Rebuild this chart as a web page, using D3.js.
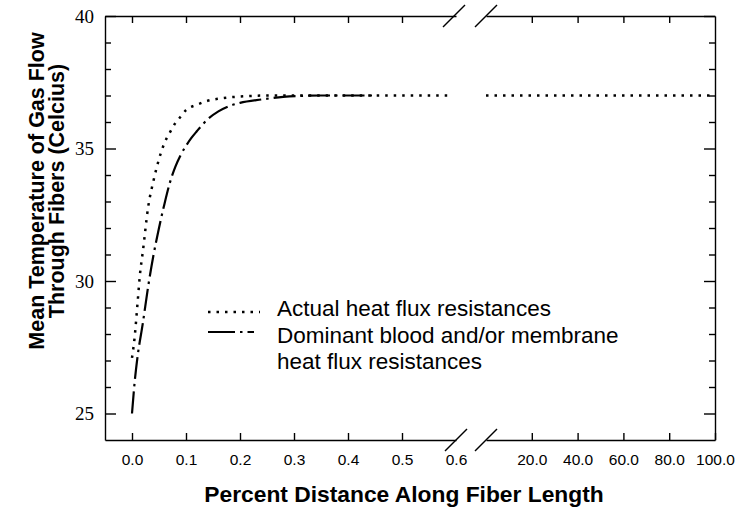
<!DOCTYPE html>
<html><head><meta charset="utf-8">
<script src="https://cdn.jsdelivr.net/npm/d3@7"></script>
<style>
body{margin:0;background:#fff;}
svg{display:block;font-family:"Liberation Sans",Arial,Helvetica,sans-serif;}
.serif text{font-family:"Liberation Serif","Times New Roman",serif;}
</style></head>
<body><svg id="c" width="738" height="512"></svg>
<script>
// ---- data ----
const actualX = [0, 0.005, 0.01, 0.015, 0.02, 0.03, 0.04, 0.05, 0.06, 0.07, 0.08, 0.09, 0.10, 0.12, 0.14, 0.16, 0.18, 0.20, 0.25, 0.30, 0.59];
const actualY = [27.1, 27.9, 29.1, 30.3, 31.1, 32.8, 33.8, 34.6, 35.2, 35.6, 35.95, 36.2, 36.45, 36.65, 36.8, 36.88, 36.93, 36.96, 37.0, 37.0, 37.0];
const dominantX = [0, 0.005, 0.01, 0.02, 0.03, 0.04, 0.05, 0.06, 0.07, 0.08, 0.09, 0.10, 0.11, 0.12, 0.14, 0.16, 0.18, 0.20, 0.24, 0.28, 0.35, 0.45];
const dominantY = [25.0, 26.2, 27.1, 28.4, 29.8, 31.0, 32.0, 32.9, 33.7, 34.3, 34.75, 35.1, 35.4, 35.65, 36.1, 36.4, 36.6, 36.72, 36.85, 36.95, 37.0, 37.0];
const actualRightX = [0, 100];
const actualRightY = [37, 37];
const leftTicks = [0, 0.1, 0.2, 0.3, 0.4, 0.5, 0.6];
const rightTicks = [20, 40, 60, 80, 100];
const yMajor = [25, 30, 35, 40];
const yMinor = [25,26,27,28,29,30,31,32,33,34,35,36,37,38,39];
const legendLabels = ["Actual heat flux resistances", "Dominant blood and/or membrane", "heat flux resistances"];
const xTitle = "Percent Distance Along Fiber Length";
const yTitle = ["Mean Temperature of Gas Flow", "Through Fibers (Celcius)"];

// ---- layout ----
const L = 105, R = 715, T = 16, B = 440, brk1 = 456, brk2 = 486;
const svg = d3.select("#c");
const xL = d3.scaleLinear().domain([-0.05, 0.6]).range([L, brk1]);
const xR = d3.scaleLinear().domain([0, 100]).range([brk2, R]);
const y = d3.scaleLinear().domain([24, 40]).range([B, T]);

const sw = 1.4;
function styleAxis(g, fs){
  g.attr("font-family",null);
  g.selectAll("path,line").attr("stroke","#000").attr("stroke-width",sw);
  g.selectAll("text").attr("font-size",fs).attr("fill","#000");
}
const fmt = d3.format(".1f");
// bottom axes
const gbL = svg.append("g").attr("transform",`translate(0,${B})`)
  .call(d3.axisBottom(xL).tickValues(leftTicks).tickFormat(fmt).tickSizeInner(-7).tickSizeOuter(0).tickPadding(14));
gbL.selectAll(".tick").filter(d=>d===0.6).select("line").remove();
styleAxis(gbL, 15.5);
const gbR = svg.append("g").attr("transform",`translate(0,${B})`)
  .call(d3.axisBottom(xR).tickValues(rightTicks).tickFormat(fmt).tickSizeInner(-7).tickSizeOuter(0).tickPadding(14));
styleAxis(gbR, 15.5);
// top axes
const gtL = svg.append("g").attr("transform",`translate(0,${T})`)
  .call(d3.axisTop(xL).tickValues(leftTicks.slice(0,6)).tickFormat("").tickSizeInner(-7).tickSizeOuter(0));
styleAxis(gtL, 0);
const gtR = svg.append("g").attr("transform",`translate(0,${T})`)
  .call(d3.axisTop(xR).tickValues(rightTicks.slice(0,4)).tickFormat("").tickSizeInner(-7).tickSizeOuter(0));
styleAxis(gtR, 0);
// left axis
const gl = svg.append("g").attr("class","serif").attr("transform",`translate(${L},0)`)
  .call(d3.axisLeft(y).tickValues(yMajor).tickFormat(d3.format("d")).tickSizeInner(-11).tickSizeOuter(0).tickPadding(11));
styleAxis(gl, 19);
svg.append("g").attr("transform",`translate(${L},0)`)
  .call(d3.axisLeft(y).tickValues(yMinor.filter(v=>v%5)).tickFormat("").tickSizeInner(-6).tickSizeOuter(0))
  .call(g=>{g.select(".domain").remove(); styleAxis(g,0);});
// right axis
const gr = svg.append("g").attr("transform",`translate(${R},0)`)
  .call(d3.axisRight(y).tickValues(yMajor).tickFormat("").tickSizeInner(-11).tickSizeOuter(0));
styleAxis(gr, 0);
svg.append("g").attr("transform",`translate(${R},0)`)
  .call(d3.axisRight(y).tickValues(yMinor.filter(v=>v%5)).tickFormat("").tickSizeInner(-6).tickSizeOuter(0))
  .call(g=>{g.select(".domain").remove(); styleAxis(g,0);});

// break marks
const brk = [[brk1,B],[brk2,B],[xL(0.6)-2,T],[brk2,T]];
svg.append("g").selectAll("line").data(brk).join("line")
  .attr("x1",d=>d[0]-11).attr("y1",d=>d[1]+11).attr("x2",d=>d[0]+11).attr("y2",d=>d[1]-11)
  .attr("stroke","#000").attr("stroke-width",sw);

// curves
const dotDash = "2.5,6";
const dashDot = "22,5,2.5,5";
const lineL = d3.line().x(d=>xL(d[0])).y(d=>y(d[1])).curve(d3.curveMonotoneX);
const lineR = d3.line().x(d=>xR(d[0])).y(d=>y(d[1]));
svg.append("path").datum(actualX.map((v,i)=>[v,actualY[i]])).attr("d",lineL)
  .attr("fill","none").attr("stroke","#000").attr("stroke-width",2.5).attr("stroke-dasharray",dotDash);
svg.append("path").datum(actualRightX.map((v,i)=>[v,actualRightY[i]])).attr("d",lineR)
  .attr("fill","none").attr("stroke","#000").attr("stroke-width",2.5).attr("stroke-dasharray",dotDash);
svg.append("path").datum(dominantX.map((v,i)=>[v,dominantY[i]])).attr("d",lineL)
  .attr("fill","none").attr("stroke","#000").attr("stroke-width",2.2).attr("stroke-dasharray",dashDot);

// legend
const lg = svg.append("g");
lg.append("line").attr("x1",208).attr("x2",260).attr("y1",312).attr("y2",312)
  .attr("stroke","#000").attr("stroke-width",2.5).attr("stroke-dasharray",dotDash);
lg.append("line").attr("x1",208).attr("x2",254).attr("y1",332).attr("y2",332)
  .attr("stroke","#000").attr("stroke-width",2.2).attr("stroke-dasharray","27,5,2.5,5");
lg.selectAll("text").data(legendLabels).join("text")
  .attr("x",277).attr("y",(d,i)=>[316,343,368.5][i])
  .attr("font-size",22.5).text(d=>d);

// titles
svg.append("text").attr("x",404).attr("y",502).attr("text-anchor","middle")
  .attr("font-size",22.8).attr("font-weight","bold").text(xTitle);
svg.append("g").attr("transform","translate(0,191) rotate(-90)")
  .selectAll("text").data(yTitle).join("text")
  .attr("x",0).attr("y",(d,i)=>[44,64][i]).attr("text-anchor","middle")
  .attr("font-size",21.5).attr("font-weight","bold").text(d=>d);
</script></body></html>
